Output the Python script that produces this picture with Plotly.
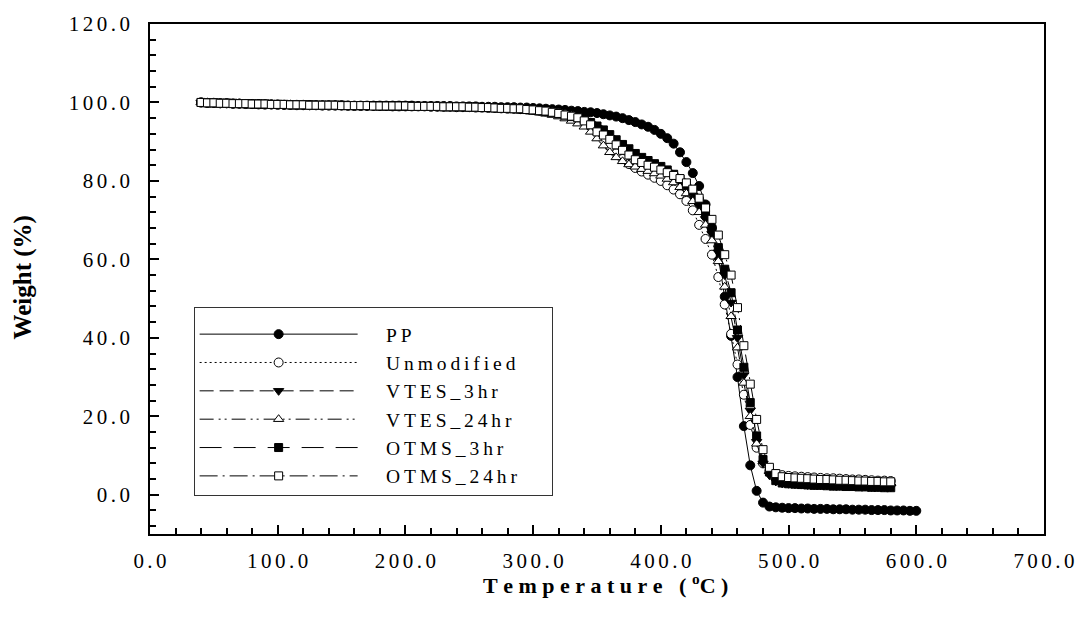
import plotly.graph_objects as go

temperature = [40, 45, 50, 55, 60, 65, 70, 75, 80, 85,
               90, 95, 100, 105, 110, 115, 120, 125, 130, 135,
               140, 145, 150, 155, 160, 165, 170, 175, 180, 185,
               190, 195, 200, 205, 210, 215, 220, 225, 230, 235,
               240, 245, 250, 255, 260, 265, 270, 275, 280, 285,
               290, 295, 300, 305, 310, 315, 320, 325, 330, 335,
               340, 345, 350, 355, 360, 365, 370, 375, 380, 385,
               390, 395, 400, 405, 410, 415, 420, 425, 430, 435,
               440, 445, 450, 455, 460, 465, 470, 475, 480, 485,
               490, 495, 500, 505, 510, 515, 520, 525, 530, 535,
               540, 545, 550, 555, 560, 565, 570, 575, 580, 585,
               590, 595, 600]

pp = [100.0, 99.9, 99.9, 99.8, 99.8, 99.7, 99.7, 99.6, 99.6, 99.6,
      99.5, 99.5, 99.5, 99.4, 99.4, 99.4, 99.4, 99.3, 99.3, 99.3,
      99.3, 99.3, 99.3, 99.2, 99.2, 99.2, 99.2, 99.2, 99.2, 99.2,
      99.2, 99.2, 99.2, 99.2, 99.1, 99.1, 99.1, 99.1, 99.1, 99.1,
      99.0, 99.0, 99.0, 99.0, 98.9, 98.9, 98.9, 98.8, 98.8, 98.8,
      98.7, 98.7, 98.6, 98.5, 98.4, 98.3, 98.2, 98.1, 97.9, 97.8,
      97.6, 97.5, 97.3, 97.0, 96.7, 96.4, 96.0, 95.5, 95.0, 94.4,
      93.8, 93.0, 92.0, 90.9, 89.5, 87.3, 84.8, 82.0, 78.7, 74.0,
      68.0, 60.5, 50.5, 40.5, 30.0, 17.5, 7.5, 1.0, -2.0, -3.0,
      -3.2, -3.3, -3.4, -3.4, -3.5, -3.5, -3.6, -3.6, -3.6, -3.7,
      -3.7, -3.7, -3.8, -3.8, -3.8, -3.9, -3.9, -3.9, -4.0, -4.0,
      -4.0, -4.1, -4.1]

unmodified = [100.0, 99.9, 99.9, 99.8, 99.8, 99.7, 99.7, 99.6, 99.6, 99.5,
              99.5, 99.5, 99.4, 99.4, 99.4, 99.3, 99.3, 99.3, 99.3, 99.2,
              99.2, 99.2, 99.2, 99.2, 99.1, 99.1, 99.1, 99.1, 99.1, 99.1,
              99.0, 99.0, 99.0, 99.0, 99.0, 99.0, 98.9, 98.9, 98.9, 98.9,
              98.8, 98.8, 98.8, 98.7, 98.7, 98.6, 98.6, 98.5, 98.4, 98.4,
              98.3, 98.2, 98.1, 97.9, 97.7, 97.5, 97.3, 97.0, 96.6, 96.0,
              95.0, 93.9, 92.4, 90.5, 88.7, 87.0, 85.6, 84.3, 83.3, 82.4,
              81.6, 80.8, 80.0, 78.9, 77.8, 76.6, 74.9, 72.5, 68.8, 65.2,
              61.2, 55.5, 48.5, 41.0, 33.2, 25.5, 17.8, 12.0, 8.0, 6.0,
              5.2, 5.0, 4.8, 4.7, 4.6, 4.5, 4.4, 4.3, 4.2, 4.2,
              4.1, 4.0, 3.9, 3.9, 3.8, 3.7, 3.6, 3.6, 3.5]

vtes_3hr = [100.0, 99.9, 99.9, 99.8, 99.8, 99.7, 99.7, 99.7, 99.6, 99.6,
            99.5, 99.5, 99.5, 99.4, 99.4, 99.4, 99.3, 99.3, 99.3, 99.3,
            99.3, 99.2, 99.2, 99.2, 99.2, 99.2, 99.1, 99.1, 99.1, 99.1,
            99.1, 99.1, 99.0, 99.0, 99.0, 99.0, 99.0, 98.9, 98.9, 98.9,
            98.9, 98.8, 98.8, 98.8, 98.7, 98.7, 98.6, 98.6, 98.5, 98.4,
            98.3, 98.2, 98.1, 97.9, 97.7, 97.5, 97.2, 96.8, 96.3, 95.9,
            95.4, 94.5, 93.5, 92.2, 91.0, 89.7, 88.5, 87.3, 86.3, 85.4,
            84.6, 83.8, 83.1, 82.2, 81.2, 80.0, 78.4, 76.2, 73.6, 70.3,
            66.5, 61.8, 56.0, 49.0, 40.0, 30.5, 21.5, 13.5, 8.0, 5.0,
            3.4, 2.9, 2.8, 2.7, 2.6, 2.5, 2.5, 2.4, 2.4, 2.3,
            2.3, 2.2, 2.2, 2.1, 2.1, 2.0, 2.0, 2.0, 1.9]

vtes_24hr = [100.0, 99.9, 99.9, 99.8, 99.8, 99.7, 99.7, 99.6, 99.6, 99.5,
             99.5, 99.5, 99.4, 99.4, 99.4, 99.3, 99.3, 99.3, 99.3, 99.2,
             99.2, 99.2, 99.2, 99.1, 99.1, 99.1, 99.1, 99.1, 99.0, 99.0,
             99.0, 99.0, 99.0, 98.9, 98.9, 98.9, 98.9, 98.8, 98.8, 98.8,
             98.7, 98.7, 98.6, 98.6, 98.5, 98.5, 98.4, 98.3, 98.2, 98.1,
             98.0, 97.8, 97.6, 97.4, 97.1, 96.8, 96.4, 95.9, 95.3, 94.6,
             93.8, 92.5, 90.8, 89.0, 87.3, 86.0, 85.0, 84.2, 83.6, 83.0,
             82.5, 81.9, 81.3, 80.5, 79.6, 78.4, 76.8, 74.8, 72.0, 68.8,
             64.8, 59.5, 53.0, 45.5, 37.5, 28.5, 20.0, 13.0, 8.5, 6.0,
             4.8, 4.4, 4.2, 4.1, 4.0, 3.9, 3.8, 3.7, 3.7, 3.6,
             3.5, 3.5, 3.4, 3.3, 3.3, 3.2, 3.1, 3.1, 3.0]

otms_3hr = [100.0, 99.9, 99.9, 99.8, 99.8, 99.8, 99.7, 99.7, 99.6, 99.6,
            99.6, 99.5, 99.5, 99.5, 99.4, 99.4, 99.4, 99.4, 99.3, 99.3,
            99.3, 99.3, 99.3, 99.2, 99.2, 99.2, 99.2, 99.2, 99.1, 99.1,
            99.1, 99.1, 99.1, 99.1, 99.0, 99.0, 99.0, 99.0, 98.9, 98.9,
            98.9, 98.9, 98.8, 98.8, 98.7, 98.7, 98.6, 98.5, 98.5, 98.4,
            98.3, 98.2, 98.1, 97.9, 97.7, 97.4, 97.1, 96.8, 96.4, 96.1,
            95.6, 94.9, 94.0, 93.0, 91.8, 90.5, 89.3, 88.2, 87.0, 86.0,
            85.2, 84.4, 83.7, 82.8, 81.7, 80.5, 79.0, 77.4, 74.8, 71.5,
            67.8, 63.0, 57.5, 51.5, 42.0, 32.5, 23.5, 15.0, 9.0, 5.8,
            3.6, 3.0, 2.8, 2.7, 2.6, 2.5, 2.4, 2.4, 2.3, 2.2,
            2.2, 2.1, 2.1, 2.0, 2.0, 1.9, 1.9, 1.8, 1.8]

otms_24hr = [100.0, 99.9, 99.9, 99.8, 99.8, 99.7, 99.7, 99.7, 99.6, 99.6,
             99.6, 99.5, 99.5, 99.5, 99.4, 99.4, 99.4, 99.3, 99.3, 99.3,
             99.3, 99.3, 99.2, 99.2, 99.2, 99.2, 99.2, 99.1, 99.1, 99.1,
             99.1, 99.1, 99.1, 99.0, 99.0, 99.0, 99.0, 99.0, 98.9, 98.9,
             98.9, 98.9, 98.8, 98.8, 98.7, 98.7, 98.6, 98.5, 98.5, 98.4,
             98.4, 98.2, 98.1, 97.9, 97.8, 97.5, 97.2, 96.8, 96.5, 96.1,
             95.3, 94.3, 92.5, 91.7, 90.6, 89.2, 87.8, 86.6, 85.4, 84.7,
             84.0, 83.5, 82.8, 82.1, 81.4, 80.6, 79.5, 77.9, 75.6, 73.1,
             70.2, 66.2, 61.2, 56.0, 47.7, 38.0, 28.2, 19.2, 11.5, 7.0,
             5.4, 4.6, 4.4, 4.3, 4.2, 4.1, 4.0, 3.9, 3.9, 3.8,
             3.7, 3.7, 3.6, 3.5, 3.5, 3.4, 3.4, 3.3, 3.3]

series_names = ["PP", "Unmodified", "VTES_3hr", "VTES_24hr", "OTMS_3hr", "OTMS_24hr"]
series_values = [pp, unmodified, vtes_3hr, vtes_24hr, otms_3hr, otms_24hr]

x_tick_values = [0, 100, 200, 300, 400, 500, 600, 700]
x_tick_labels = ["0.0", "100.0", "200.0", "300.0", "400.0", "500.0", "600.0", "700.0"]
y_tick_values = [0, 20, 40, 60, 80, 100, 120]
y_tick_labels = ["0.0", "20.0", "40.0", "60.0", "80.0", "100.0", "120.0"]

styles = [
    dict(dash="solid", symbol="circle", fill="black", size=9),
    dict(dash="2px,3px", symbol="circle", fill="white", size=9),
    dict(dash="14px,6px", symbol="triangle-down", fill="black", size=9),
    dict(dash="14px,5px,2px,4px,2px,5px", symbol="triangle-up", fill="white", size=9),
    dict(dash="22px,12px", symbol="square", fill="black", size=8),
    dict(dash="18px,5px,2px,5px", symbol="square", fill="white", size=8),
]

SP = "\u2009"   # thin space for letter spacing
TSP = "\u2006"  # six-per-em space for tick labels


def spaced(s, sep):
    return sep.join(list(s))


fig = go.Figure()
for name, vals, st in zip(series_names, series_values, styles):
    label = "\u2003\u2009" + spaced(name, SP) + "\u2003\u2002"
    fig.add_trace(go.Scatter(
        x=temperature[:len(vals)], y=vals, name=label,
        mode="lines+markers",
        line=dict(color="black", width=1, dash=st["dash"]),
        marker=dict(symbol=st["symbol"], size=st["size"], color=st["fill"],
                    line=dict(color="black", width=1)),
    ))

axis_font = dict(family="Liberation Serif", size=21, color="black")

fig.update_xaxes(
    range=[0, 700], tickmode="array", tickvals=x_tick_values,
    ticktext=[spaced(t, TSP) for t in x_tick_labels],
    ticks="inside", ticklen=9, tickwidth=1.5, tickcolor="black",
    minor=dict(dtick=20, ticks="inside", ticklen=6, tickwidth=1.5, tickcolor="black"),
    showline=True, linecolor="black", linewidth=1.5, mirror=True,
    showgrid=False, zeroline=False, tickfont=axis_font, ticklabelstandoff=7,
)
fig.update_yaxes(
    range=[-10, 120], tickmode="array", tickvals=y_tick_values,
    ticktext=[spaced(t, TSP) for t in y_tick_labels],
    ticks="inside", ticklen=9, tickwidth=1.5, tickcolor="black",
    minor=dict(tick0=0, dtick=4, ticks="inside", ticklen=6, tickwidth=1.5, tickcolor="black"),
    showline=True, linecolor="black", linewidth=1.5, mirror=True,
    showgrid=False, zeroline=False, tickfont=axis_font, ticklabelstandoff=14,
)

x_title = spaced("Temperature (", "\u2005") + "\u2005<sup>o</sup>" + "C\u2005)"
fig.add_annotation(
    text=x_title, xref="paper", yref="paper", x=0.509, y=-0.098,
    xanchor="center", yanchor="middle", showarrow=False,
    font=dict(family="Liberation Serif", size=22, color="black", weight="bold"),
)
fig.add_annotation(
    text="Weight (%)", xref="paper", yref="paper", x=-0.141, y=0.503,
    xanchor="center", yanchor="middle", textangle=-90, showarrow=False,
    font=dict(family="Liberation Serif", size=25, color="black", weight="bold"),
)

fig.update_layout(
    width=1087, height=634,
    margin=dict(l=150, r=36, t=23, b=100),
    paper_bgcolor="white", plot_bgcolor="white",
    showlegend=True,
    legend=dict(
        x=0.0488, y=0.4442, xanchor="left", yanchor="top",
        bgcolor="white", bordercolor="#333333", borderwidth=1,
        font=dict(family="Liberation Serif", size=19.5, color="black"),
        title=dict(text="\u2003", font=dict(family="Liberation Serif", size=5)),
        itemwidth=158, tracegroupgap=0, traceorder="normal",
    ),
)

fig.write_html("out.html")
